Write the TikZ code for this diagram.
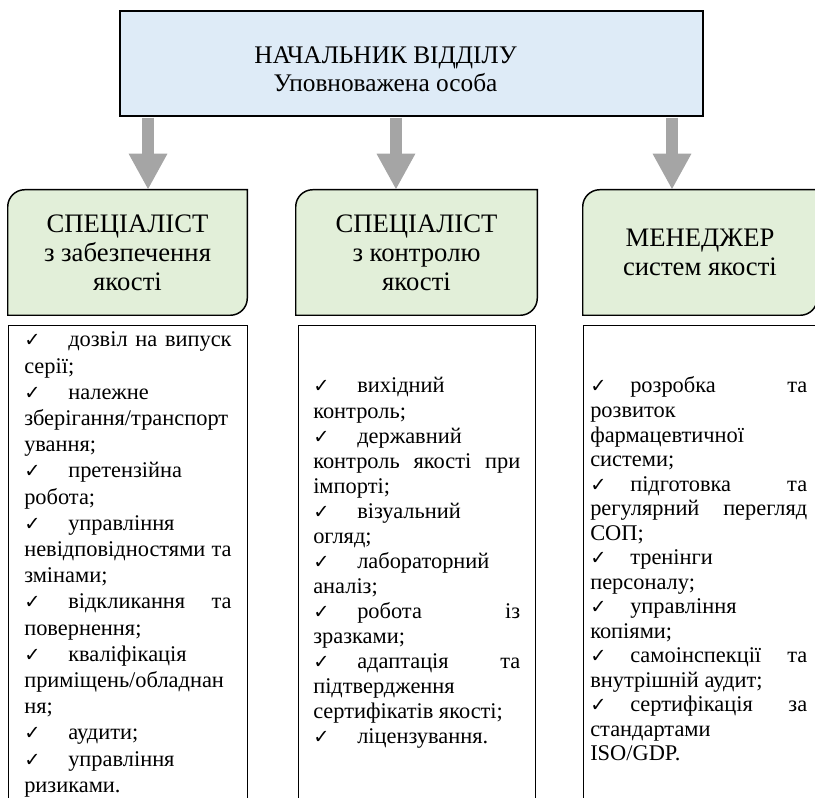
\documentclass[tikz,border=0pt]{standalone}
\usepackage{fontspec}
\setmainfont{Liberation Serif}
\newfontfamily\checkfont{DejaVu Sans}
\usepackage{xcolor}
\usepackage{tikz}
\usetikzlibrary{arrows.meta,backgrounds}
\definecolor{chiefblue}{HTML}{DEEBF7}
\definecolor{leafgreen}{HTML}{E2EFD9}
\definecolor{arrowgray}{HTML}{A5A5A5}
\newlength{\chkgap}
\setlength{\chkgap}{33pt}
\newcommand{\chk}{\makebox[\chkgap][l]{\fontsize{14.5pt}{14.5pt}\checkfont ✓}}
\hbadness=10000
\hfuzz=2pt
\tolerance=10000
\tikzset{
 chiefbox/.style={
 rectangle,
 draw=black,
 line width=1.1pt,
 fill=chiefblue,
 minimum width=437.25pt,
 minimum height=78.75pt,
 inner sep=0pt
 },
 chieftext/.style={
 align=center,
 inner sep=0pt,
 font=\fontsize{19pt}{21pt}\selectfont
 },
 leafbox/.style={
 rectangle,
 inner sep=0pt,
 align=center,
 minimum height=93.75pt,
 font=\fontsize{20pt}{21.75pt}\selectfont
 },
 leafline/.style={draw=black, line width=1.1pt, fill=leafgreen},
 dutybox/.style={
 rectangle,
 draw=black,
 line width=1.1pt,
 fill=white,
 anchor=north west,
 minimum height=375pt,
 inner sep=0pt
 },
 dutylist/.style={
 anchor=base west,
 inner sep=0pt,
 align=justify,
 font=\fontsize{16.8pt}{#1}\selectfont
 },
 downarrow/.style={-{Triangle[width=27pt,length=27pt]}, line width=9.5pt, draw=arrowgray, shorten <=0.6pt}
}

\begin{document}
\begin{tikzpicture}[x=0.75pt, y=-0.75pt]
 \useasboundingbox (0,0) rectangle (815,798);
 \clip (0,0) rectangle (815,798);

 \node[chiefbox, label={[chieftext, xshift=-19.5pt, yshift=-4pt]center:НАЧАЛЬНИК ВІДДІЛУ\\Уповноважена особа}] (chief) at (411.5,63.5) {};

 \node[leafbox, minimum width=179.25pt] (qa) at (127.5,252.5) {СПЕЦІАЛІСТ\\з забезпечення\\якості};
 \node[leafbox, minimum width=180.75pt] (qc) at (416.5,252.5) {СПЕЦІАЛІСТ\\з контролю\\якості};
 \node[leafbox, minimum width=175.5pt] (qm) at (700,252.5) {МЕНЕДЖЕР\\систем якості};
 \begin{scope}[on background layer]
 \foreach \b in {qa,qc,qm}
 \draw[leafline] (\b.south west) -- ([yshift=-12.75pt]\b.north west)
 .. controls ([yshift=-5.7pt]\b.north west) and ([xshift=5.7pt]\b.north west) .. ([xshift=12.75pt]\b.north west)
 -- (\b.north east) -- ([yshift=12.75pt]\b.south east)
 .. controls ([yshift=5.7pt]\b.south east) and ([xshift=-5.7pt]\b.south east) .. ([xshift=-12.75pt]\b.south east)
 -- cycle;
 \end{scope}

 \coordinate (qaIn) at ([xshift=15.4pt]qa.north);
 \coordinate (qcIn) at ([xshift=-15.4pt]qc.north);
 \coordinate (qmIn) at ([xshift=-21pt]qm.north);
 \foreach \t in {qaIn,qcIn,qmIn}
 \draw[downarrow] (chief.south -| \t) -- (\t);

 \node[dutybox, minimum width=179.25pt] (qaList) at (8,325) {};
 \node[dutybox, minimum width=177.75pt] (qcList) at (298,325) {};
 \node[dutybox, minimum width=187.5pt] (qmList) at (583,325) {};

 \node[dutylist=19.65pt, text width=155.5pt] (qaDuties) at ([shift={(16,22)}]qaList.north west) {%
 \chk дозвіл на випуск\linebreak серії;\\
 \chk належне\linebreak зберігання/транспорт\linebreak ування;\\
 \chk претензійна\linebreak робота;\\
 \chk управління\linebreak невідповідностями та\linebreak змінами;\\
 \chk відкликання та\linebreak повернення;\\
 \chk кваліфікація\linebreak приміщень/обладнан\linebreak ня;\\
 \chk аудити;\\
 \chk управління\linebreak ризиками.};

 \node[dutylist=18.8pt, text width=155.25pt] (qcDuties) at ([shift={(15,68)}]qcList.north west) {%
 \chk вихідний\linebreak контроль;\\
 \chk державний\linebreak контроль якості при\linebreak імпорті;\\
 \chk візуальний\linebreak огляд;\\
 \chk лабораторний\linebreak аналіз;\\
 \chk робота із\linebreak зразками;\\
 \chk адаптація та\linebreak підтвердження\linebreak сертифікатів якості;\\
 \chk ліцензування.};

 \node[dutylist=18.4pt, text width=162.75pt] (qmDuties) at ([shift={(7,68)}]qmList.north west) {%
 \setlength{\chkgap}{30pt}%
 \chk розробка та\linebreak розвиток\linebreak фармацевтичної\linebreak системи;\\
 \chk підготовка та\linebreak регулярний перегляд\linebreak СОП;\\
 \chk тренінги\linebreak персоналу;\\
 \chk управління\linebreak копіями;\\
 \chk самоінспекції та\linebreak внутрішній аудит;\\
 \chk сертифікація за\linebreak стандартами\linebreak ISO/GDP.};
\end{tikzpicture}
\end{document}
